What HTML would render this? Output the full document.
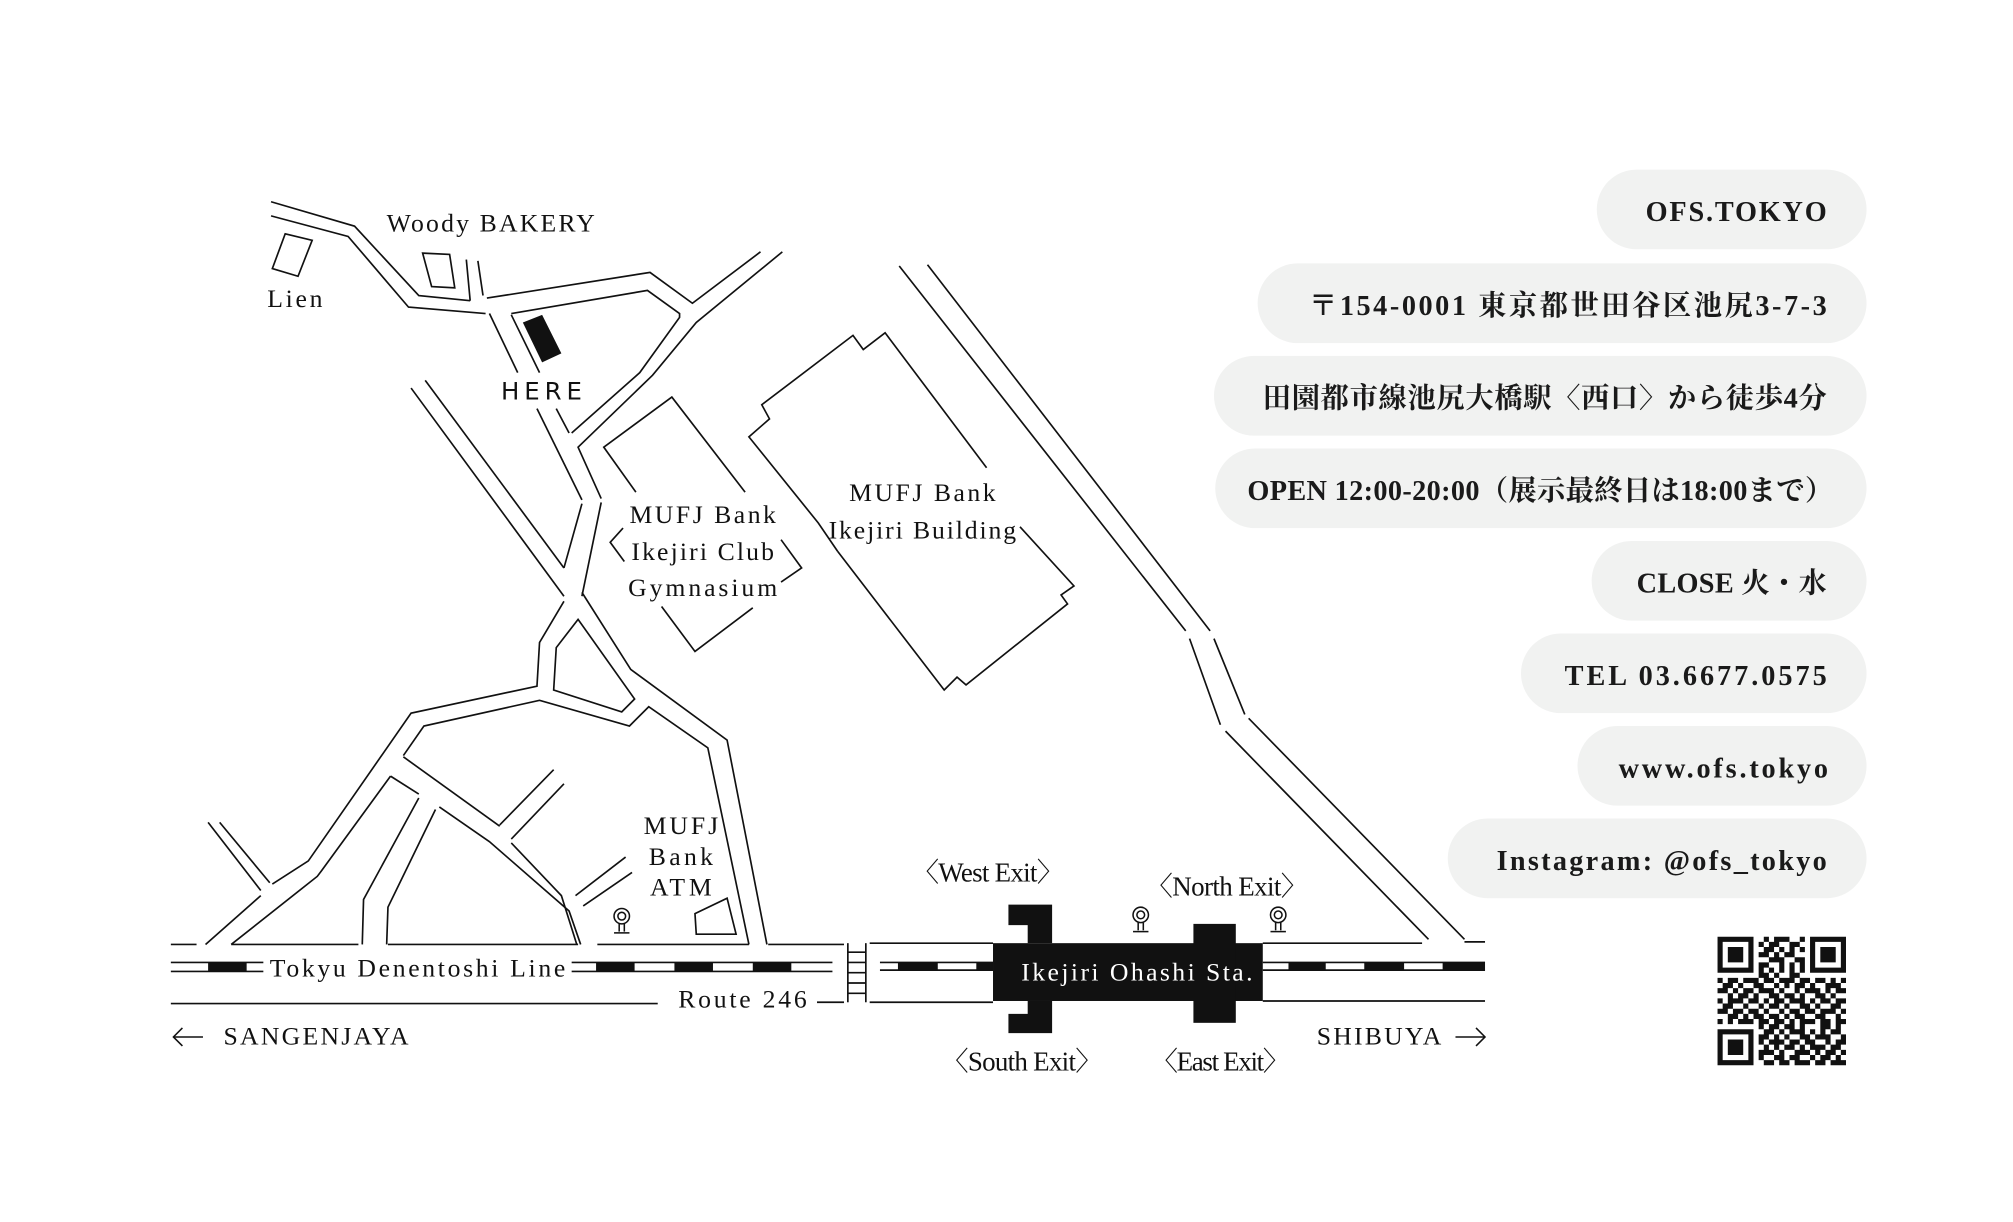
<!DOCTYPE html>
<html><head><meta charset="utf-8">
<style>
html,body{margin:0;padding:0;background:#fff;}
svg{display:block;}
.m{font-family:"Liberation Serif","Noto Serif CJK SC",serif;font-size:20px;fill:#111;}
.p{font-family:"Liberation Serif","Noto Serif CJK SC",serif;font-size:22px;font-weight:bold;fill:#1a1a1a;}
</style></head><body>
<svg width="2013" height="1222" viewBox="0 0 1567 951" preserveAspectRatio="none" xmlns="http://www.w3.org/2000/svg">
<rect width="1567" height="951" fill="#fff"/>
<g fill="none" stroke="#111" stroke-width="1.3" stroke-linejoin="miter">
<polyline points="211,157 276,176 326,230 366,234"/>
<polyline points="211,168 271,184 318,239 378,244"/>
<line x1="363" y1="202" x2="366" y2="234"/>
<line x1="372" y1="203" x2="376" y2="230"/>
<polyline points="379,232 506,212 539,236 592,196"/>
<polyline points="398,244 504,226 529,244 529,247 498,290 445,337"/>
<polyline points="609,196 542,251 508,292 450,348 468,388"/>
<line x1="381" y1="244" x2="403" y2="290"/>
<line x1="398" y1="245" x2="420" y2="290"/>
<line x1="418" y1="318" x2="453" y2="389"/>
<line x1="433" y1="318" x2="443" y2="337"/>
<line x1="453" y1="392" x2="439" y2="442"/>
<line x1="468" y1="391" x2="453" y2="464"/>
<line x1="320" y1="302" x2="439" y2="464"/>
<line x1="331" y1="296" x2="439" y2="442"/>
<polyline points="439,468 420,500 418,534 320,555 240,670 212,688"/>
<polyline points="453,461 491,521 566,576 597,735"/>
<polygon points="450,482 433,504 431,537 484,554 494,544"/>
<polyline points="314,588 330,565 420,545 490,565 505,550 551,582 583,735"/>
<line x1="162" y1="640" x2="203" y2="693"/>
<line x1="171" y1="640" x2="210" y2="687"/>
<line x1="203" y1="697" x2="160" y2="735"/>
<polyline points="304,604 250,678 247,682 180,735"/>
<line x1="314" y1="589" x2="389" y2="643"/>
<polyline points="398,656 437,697 449,735"/>
<line x1="304" y1="604" x2="326" y2="618"/>
<polyline points="342,628 381,655 443,709 452,735"/>
<polyline points="326,621 283,700 282,735"/>
<polyline points="339,630 302,706 301,735"/>
<line x1="431" y1="599" x2="389" y2="642"/>
<line x1="439" y1="610" x2="398" y2="653"/>
<line x1="487" y1="667" x2="448" y2="697"/>
<line x1="492" y1="679" x2="454" y2="705"/>
<polygon points="222,182 243,187 232,215 212,209"/>
<polygon points="329,197 350,198 354,224 336,223"/>
<polyline points="652,429 637,407 583,340 599,326 593,315 664,261 672,272 689,259 768,364"/>
<polyline points="794,410 836,456 826,463 831,470 752,533 745,527 735,537 652,429"/>
<polyline points="580,383 523,309 470,348 495,383"/>
<polyline points="485,411 475,422 486,437"/>
<polyline points="608,420 624,442 608,453"/>
<polyline points="515,472 541,507 586,473"/>
<polygon points="541,711 566,699 573,727 542,727"/>
<polyline points="700,207 923,491"/>
<polyline points="926,497 950,564"/>
<polyline points="954,569 1112,731"/>
<polyline points="722,206 942,491"/>
<polyline points="945,497 969,556"/>
<polyline points="972,559 1140,731"/>
<line x1="133" y1="735" x2="153" y2="735"/>
<line x1="180" y1="735" x2="279" y2="735"/>
<line x1="302" y1="735" x2="450" y2="735"/>
<line x1="465" y1="735" x2="583" y2="735"/>
<line x1="598" y1="735" x2="657" y2="735"/>
<line x1="133" y1="781" x2="512" y2="781"/>
<line x1="636" y1="780" x2="657" y2="780"/>
<line x1="133" y1="749" x2="205" y2="749"/><line x1="133" y1="756" x2="205" y2="756"/>
<line x1="445" y1="749" x2="648" y2="749"/><line x1="445" y1="756" x2="648" y2="756"/>
<line x1="660" y1="734" x2="660" y2="780"/><line x1="674" y1="734" x2="674" y2="780"/>
<line x1="660" y1="741" x2="674" y2="741"/><line x1="660" y1="749" x2="674" y2="749"/><line x1="660" y1="757" x2="674" y2="757"/><line x1="660" y1="765" x2="674" y2="765"/><line x1="660" y1="773" x2="674" y2="773"/>
<line x1="677" y1="734" x2="773" y2="734"/><line x1="677" y1="780" x2="773" y2="780"/>
<line x1="685" y1="749" x2="773" y2="749"/><line x1="685" y1="755" x2="773" y2="755"/>
<line x1="983" y1="734" x2="1107" y2="734"/><line x1="1140" y1="733" x2="1156" y2="733"/>
<line x1="983" y1="749" x2="1156" y2="749"/><line x1="983" y1="755" x2="1156" y2="755"/>
<line x1="983" y1="779" x2="1156" y2="779"/>
</g>
<g fill="#111">
<polygon points="407,251 422,245 437,275 422,282"/>
<rect x="162" y="749" width="30" height="7"/>
<rect x="464" y="749" width="30" height="7"/><rect x="525" y="749" width="30" height="7"/><rect x="586" y="749" width="30" height="7"/>
<rect x="699" y="749" width="31" height="6"/><rect x="760" y="749" width="13" height="6"/>
<rect x="1003" y="749" width="29" height="6"/><rect x="1062" y="749" width="31" height="6"/><rect x="1123" y="749" width="33" height="6"/>
<rect x="773" y="734" width="210" height="45"/>
<polygon points="785,704 819,704 819,734 800,734 800,720 785,720"/>
<polygon points="800,779 819,779 819,804 785,804 785,789 800,789"/>
<rect x="929" y="719" width="33" height="77"/>
</g>
<g fill="none" stroke="#111" stroke-width="1.2">
<g transform="translate(484,717)"><circle cx="0" cy="-4" r="6"/><circle cx="0" cy="-4" r="3"/><line x1="-2" y1="2" x2="-2" y2="8"/><line x1="2" y1="2" x2="2" y2="8"/><line x1="-6" y1="9" x2="6" y2="9"/></g>
<g transform="translate(888,716)"><circle cx="0" cy="-4" r="6"/><circle cx="0" cy="-4" r="3"/><line x1="-2" y1="2" x2="-2" y2="8"/><line x1="2" y1="2" x2="2" y2="8"/><line x1="-6" y1="9" x2="6" y2="9"/></g>
<g transform="translate(995,716)"><circle cx="0" cy="-4" r="6"/><circle cx="0" cy="-4" r="3"/><line x1="-2" y1="2" x2="-2" y2="8"/><line x1="2" y1="2" x2="2" y2="8"/><line x1="-6" y1="9" x2="6" y2="9"/></g>
</g>
<g class="m">
<text x="301" y="180" textLength="162">Woody BAKERY</text>
<text x="208" y="239" textLength="43">Lien</text>
<text x="390" y="311" textLength="63" style="font-family:'DejaVu Sans','Liberation Sans',sans-serif;font-size:19px">HERE</text>
<text x="547" y="407" text-anchor="middle" textLength="114">MUFJ Bank</text>
<text x="547" y="436" text-anchor="middle" textLength="111">Ikejiri Club</text>
<text x="547" y="464" text-anchor="middle" textLength="116">Gymnasium</text>
<text x="718" y="390" text-anchor="middle" textLength="114">MUFJ Bank</text>
<text x="718" y="419" text-anchor="middle" textLength="146">Ikejiri Building</text>
<text x="530" y="649" text-anchor="middle" textLength="58">MUFJ</text>
<text x="530" y="673" text-anchor="middle" textLength="50">Bank</text>
<text x="530" y="697" text-anchor="middle" textLength="48">ATM</text>
<text x="210" y="760" textLength="230">Tokyu Denentoshi Line</text>
<text x="528" y="784" textLength="100">Route 246</text>
<text x="174" y="813" textLength="144">SANGENJAYA</text>
<text x="1025" y="813" textLength="97">SHIBUYA</text>
<text x="710" y="686" textLength="118" style="font-size:21px">〈West Exit〉</text>
<text x="892" y="697" textLength="126" style="font-size:21px">〈North Exit〉</text>
<text x="733" y="833" textLength="125" style="font-size:21px">〈South Exit〉</text>
<text x="896" y="833" textLength="108" style="font-size:21px">〈East Exit〉</text>
<text x="795" y="763" textLength="180" fill="#fff">Ikejiri Ohashi Sta.</text>
</g>
<g fill="none" stroke="#111" stroke-width="1.2">
<polyline points="142,800 135,807 142,814"/><line x1="135" y1="807" x2="158" y2="807"/>
<polyline points="1149,800 1156,807 1149,814"/><line x1="1133" y1="807" x2="1156" y2="807"/>
</g>
<g fill="#f1f2f1">
<rect x="1243" y="132" width="210" height="62" rx="31"/>
<rect x="979" y="205" width="474" height="62" rx="31"/>
<rect x="945" y="277" width="508" height="62" rx="31"/>
<rect x="946" y="349" width="507" height="62" rx="31"/>
<rect x="1239" y="421" width="214" height="62" rx="31"/>
<rect x="1184" y="493" width="269" height="62" rx="31"/>
<rect x="1228" y="565" width="225" height="62" rx="31"/>
<rect x="1127" y="637" width="326" height="62" rx="31"/>
</g>
<g class="p" text-anchor="end">
<text x="1422" y="172" textLength="141">OFS.TOKYO</text>
<text x="1422" y="245" textLength="403">〒154-0001 東京都世田谷区池尻3-7-3</text>
<text x="1422" y="317" textLength="439">田園都市線池尻大橋駅〈西口〉から徒歩4分</text>
<text x="1427" y="389" textLength="456">OPEN 12:00-20:00（展示最終日は18:00まで）</text>
<text x="1422" y="461" textLength="148">CLOSE 火・水</text>
<text x="1422" y="533" textLength="204">TEL 03.6677.0575</text>
<text x="1423" y="605" textLength="163">www.ofs.tokyo</text>
<text x="1422" y="677" textLength="257">Instagram: @ofs_tokyo</text>
</g>
<g transform="translate(1337,729) scale(4)" fill="#111">
<path d="M0 0h7v1h-7zM9 0h1v1h-1zM11 0h3v1h-3zM16 0h1v1h-1zM18 0h7v1h-7z
M0 1h1v1h-1zM6 1h1v1h-1zM8 1h1v1h-1zM10 1h2v1h-2zM14 1h2v1h-2zM18 1h1v1h-1zM24 1h1v1h-1z
M0 2h1v1h-1zM2 2h3v1h-3zM6 2h1v1h-1zM9 2h2v1h-2zM12 2h1v1h-1zM14 2h1v1h-1zM16 2h1v1h-1zM18 2h1v1h-1zM20 2h3v1h-3zM24 2h1v1h-1z
M0 3h1v1h-1zM2 3h3v1h-3zM6 3h1v1h-1zM8 3h2v1h-2zM11 3h1v1h-1zM13 3h2v1h-2zM18 3h1v1h-1zM20 3h3v1h-3zM24 3h1v1h-1z
M0 4h1v1h-1zM2 4h3v1h-3zM6 4h1v1h-1zM10 4h3v1h-3zM15 4h2v1h-2zM18 4h1v1h-1zM20 4h3v1h-3zM24 4h1v1h-1z
M0 5h1v1h-1zM6 5h1v1h-1zM8 5h2v1h-2zM12 5h1v1h-1zM14 5h1v1h-1zM16 5h1v1h-1zM18 5h1v1h-1zM24 5h1v1h-1z
M0 6h7v1h-7zM8 6h1v1h-1zM10 6h1v1h-1zM12 6h1v1h-1zM14 6h1v1h-1zM16 6h1v1h-1zM18 6h7v1h-7z
M8 7h2v1h-2zM11 7h1v1h-1zM14 7h2v1h-2z
M0 8h1v1h-1zM2 8h2v1h-2zM5 8h3v1h-3zM9 8h2v1h-2zM12 8h3v1h-3zM16 8h2v1h-2zM19 8h2v1h-2zM22 8h1v1h-1zM24 8h1v1h-1z
M1 9h2v1h-2zM4 9h1v1h-1zM7 9h2v1h-2zM11 9h1v1h-1zM13 9h1v1h-1zM15 9h2v1h-2zM18 9h1v1h-1zM21 9h3v1h-3z
M0 10h2v1h-2zM3 10h1v1h-1zM5 10h2v1h-2zM8 10h3v1h-3zM12 10h1v1h-1zM15 10h1v1h-1zM17 10h3v1h-3zM21 10h1v1h-1zM23 10h2v1h-2z
M2 11h1v1h-1zM4 11h2v1h-2zM7 11h1v1h-1zM10 11h2v1h-2zM13 11h2v1h-2zM16 11h1v1h-1zM19 11h2v1h-2zM22 11h1v1h-1z
M0 12h1v1h-1zM2 12h3v1h-3zM6 12h2v1h-2zM9 12h1v1h-1zM11 12h2v1h-2zM14 12h3v1h-3zM18 12h1v1h-1zM20 12h2v1h-2zM23 12h2v1h-2z
M1 13h2v1h-2zM5 13h1v1h-1zM8 13h1v1h-1zM10 13h2v1h-2zM13 13h1v1h-1zM16 13h2v1h-2zM19 13h1v1h-1zM22 13h2v1h-2z
M0 14h2v1h-2zM3 14h2v1h-2zM6 14h2v1h-2zM9 14h1v1h-1zM12 14h1v1h-1zM14 14h2v1h-2zM17 14h2v1h-2zM20 14h3v1h-3zM24 14h1v1h-1z
M2 15h2v1h-2zM5 15h1v1h-1zM7 15h2v1h-2zM10 15h2v1h-2zM13 15h1v1h-1zM15 15h2v1h-2zM19 15h2v1h-2zM23 15h1v1h-1z
M0 16h1v1h-1zM2 16h1v1h-1zM4 16h3v1h-3zM8 16h2v1h-2zM11 16h2v1h-2zM14 16h1v1h-1zM16 16h3v1h-3zM20 16h2v1h-2zM23 16h2v1h-2z
M8 17h1v1h-1zM10 17h2v1h-2zM13 17h2v1h-2zM16 17h1v1h-1zM20 17h2v1h-2zM23 17h1v1h-1z
M0 18h7v1h-7zM9 18h2v1h-2zM12 18h1v1h-1zM14 18h3v1h-3zM18 18h1v1h-1zM20 18h1v1h-1zM22 18h2v1h-2z
M0 19h1v1h-1zM6 19h1v1h-1zM8 19h2v1h-2zM11 19h1v1h-1zM13 19h1v1h-1zM16 19h2v1h-2zM19 19h3v1h-3zM24 19h1v1h-1z
M0 20h1v1h-1zM2 20h3v1h-3zM6 20h1v1h-1zM8 20h1v1h-1zM10 20h3v1h-3zM14 20h2v1h-2zM17 20h2v1h-2zM21 20h1v1h-1zM23 20h2v1h-2z
M0 21h1v1h-1zM2 21h3v1h-3zM6 21h1v1h-1zM9 21h1v1h-1zM11 21h1v1h-1zM13 21h2v1h-2zM16 21h1v1h-1zM18 21h3v1h-3zM22 21h2v1h-2z
M0 22h1v1h-1zM2 22h3v1h-3zM6 22h1v1h-1zM8 22h3v1h-3zM12 22h1v1h-1zM15 22h3v1h-3zM19 22h1v1h-1zM21 22h2v1h-2zM24 22h1v1h-1z
M0 23h1v1h-1zM6 23h1v1h-1zM8 23h1v1h-1zM11 23h2v1h-2zM14 23h2v1h-2zM18 23h1v1h-1zM20 23h2v1h-2zM23 23h1v1h-1z
M0 24h7v1h-7zM9 24h2v1h-2zM12 24h2v1h-2zM15 24h3v1h-3zM19 24h2v1h-2zM22 24h3v1h-3z"/>
</g>
</svg>
</body></html>
